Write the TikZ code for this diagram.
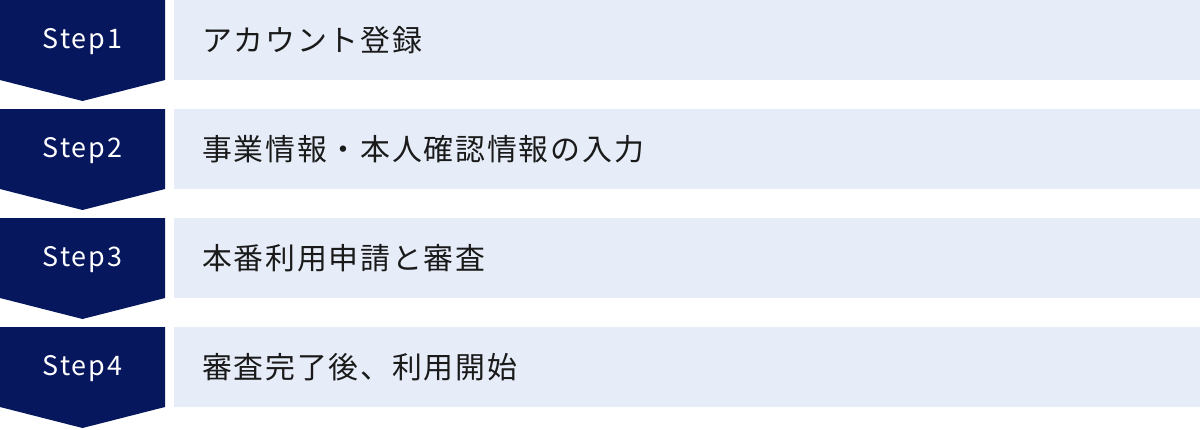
\documentclass[tikz,border=0pt]{standalone}
\usepackage{fontspec}
\setmainfont{Noto Sans CJK JP}
\definecolor{stepnavy}{HTML}{07175E}
\definecolor{taskblue}{HTML}{E6ECF8}
\definecolor{taskink}{HTML}{1A1A1A}
\tikzset{
  steptag/.style={text=white,inner sep=0pt,
    font=\fontsize{27}{31}\selectfont\addfontfeature{LetterSpace=7}},
  taskbox/.style={fill=taskblue,anchor=north west,text=taskink,
    minimum height=80bp,text width=970bp,inner xsep=28bp,inner ysep=0pt,align=left,
    font=\fontsize{30}{34}\selectfont\addfontfeature{LetterSpace=6}},
}
\begin{document}
\begin{tikzpicture}[x=1bp,y=-1bp]
\useasboundingbox (0,0) rectangle (1200,429);
%%
\fill [stepnavy] (0,0) -- (165,0) -- (165,80) -- (82.5,101) -- (0,80) -- cycle;
\fill [stepnavy] (0,109) -- (165,109) -- (165,189) -- (82.5,210) -- (0,189) -- cycle;
\fill [stepnavy] (0,218) -- (165,218) -- (165,298) -- (82.5,319) -- (0,298) -- cycle;
\fill [stepnavy] (0,327) -- (165,327) -- (165,407) -- (82.5,428) -- (0,407) -- cycle;
%
\node (step_1) at (82.5,42) [steptag] {Step1};
\node (step_2) at (82.5,151) [steptag] {Step2};
\node (step_3) at (82.5,260) [steptag] {Step3};
\node (step_4) at (82.5,369) [steptag] {Step4};
%
\node (task_1) at (174,0) [taskbox] {アカウント登録};
\node (task_2) at (174,109) [taskbox] {事業情報・本人確認情報の入力};
\node (task_3) at (174,218) [taskbox] {本番利用申請と審査};
\node (task_4) at (174,327) [taskbox] {審査完了後、利用開始};
%
\end{tikzpicture}
\end{document}
